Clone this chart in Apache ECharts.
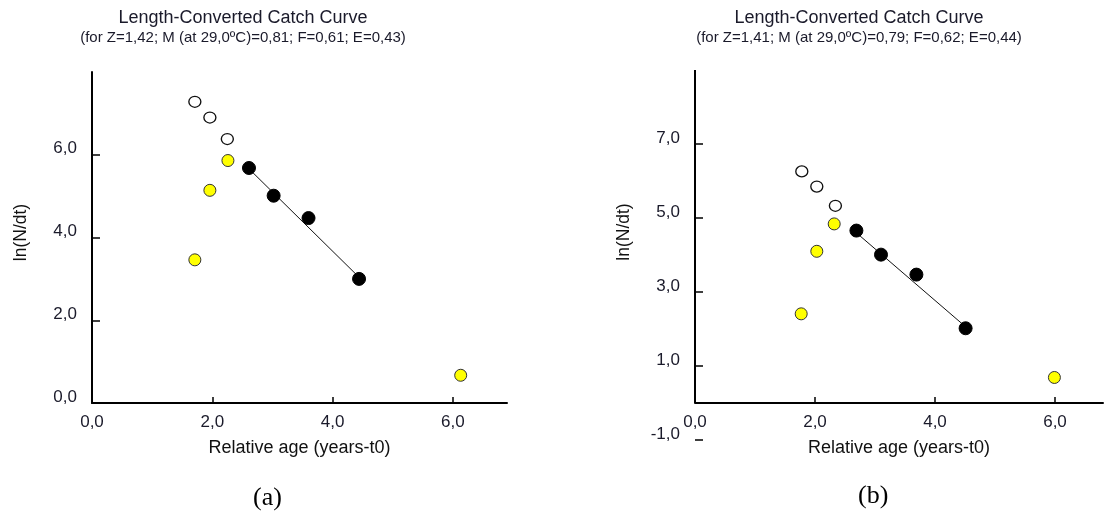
<!DOCTYPE html>
<html>
<head>
<meta charset="utf-8">
<script src="https://cdn.jsdelivr.net/npm/echarts@6/dist/echarts.min.js"></script>
<style>
  html, body { margin: 0; padding: 0; background: #fff; }
  #chart { width: 1104px; height: 513px; }
</style>
</head>
<body>
<div id="chart"></div>
<script>
// (a) values: [relative age, ln(N/dt)]
const openA = [[1.71, 7.28], [1.96, 6.9], [2.25, 6.38]];
const yellowA = [[1.71, 3.46], [1.96, 5.14], [2.26, 5.86], [6.13, 0.67]];
const blackA = [[2.61, 5.68], [3.02, 5.01], [3.6, 4.47], [4.44, 3.0]];
const fitA = [[2.61, 5.66], [4.44, 3.04]];
const xTicksA = [0, 2, 4, 6];
const yTicksA = [0, 2, 4, 6];

// (b)
const openB = [[1.78, 6.26], [2.03, 5.85], [2.34, 5.33]];
const yellowB = [[1.77, 2.41], [2.03, 4.1], [2.32, 4.84], [5.99, 0.69]];
const blackB = [[2.69, 4.66], [3.1, 4.01], [3.69, 3.47], [4.51, 2.02]];
const fitB = [[2.69, 4.6], [4.51, 2.06]];
const xTicksB = [0, 2, 4, 6];
const yTicksB = [-1, 1, 3, 5, 7];
const yAxisLineB = [[0, 0], [0, 9]];

const titleText = "Length-Converted Catch Curve";
const subA = "(for Z=1,42; M (at 29,0ºC)=0,81; F=0,61; E=0,43)";
const subB = "(for Z=1,41; M (at 29,0ºC)=0,79; F=0,62; E=0,44)";

const font = "Liberation Sans";
const fmt = (v) => v.toFixed(1).replace(".", ",");

function xAxisOf(grid, max, ticks, offset) {
  return {
    gridIndex: grid,
    type: "value",
    min: 0,
    max: max,
    interval: 2,
    offset: offset,
    name: "Relative age (years-t0)",
    nameLocation: "middle",
    nameGap: 36,
    nameTextStyle: { fontFamily: font, fontSize: 18, color: "#111" },
    axisLine: { show: true, onZero: false, lineStyle: { color: "#000", width: 2 } },
    axisTick: { show: true, inside: true, length: 6, customValues: ticks, lineStyle: { color: "#000", width: 1.5 } },
    axisLabel: { customValues: ticks, formatter: fmt, margin: 11, fontFamily: font, fontSize: 17, color: "#1a1a2a" },
    splitLine: { show: false },
  };
}

function yAxisOf(grid, min, max, ticks, showLine, namePad) {
  return {
    gridIndex: grid,
    type: "value",
    min: min,
    max: max,
    interval: 2,
    name: "ln(N/dt)",
    nameLocation: "middle",
    nameGap: 62,
    nameTextStyle: { fontFamily: font, fontSize: 17.5, color: "#111", padding: namePad },
    axisLine: { show: showLine, lineStyle: { color: "#000", width: 2 } },
    axisTick: { show: true, inside: true, length: 8, customValues: ticks, lineStyle: { color: "#000", width: 1.5 } },
    axisLabel: {
      customValues: ticks, formatter: fmt, margin: 15,
      fontFamily: font, fontSize: 17, color: "#1a1a2a",
      verticalAlign: "bottom", lineHeight: 12,
    },
    splitLine: { show: false },
  };
}

function pointsOf(name, data, grid, style, size) {
  return {
    name: name,
    type: "scatter",
    xAxisIndex: grid,
    yAxisIndex: grid,
    data: data,
    symbol: "circle",
    symbolSize: size,
    itemStyle: style,
    z: 5,
  };
}

function fitOf(data, grid) {
  return {
    type: "line",
    xAxisIndex: grid,
    yAxisIndex: grid,
    data: data,
    symbol: "none",
    lineStyle: { color: "#111", width: 1 },
    z: 3,
  };
}

const openStyle = { color: "#fff", borderColor: "#111", borderWidth: 1.3, opacity: 1 };
const yellowStyle = { color: "#ffff00", borderColor: "#333", borderWidth: 1, opacity: 1 };
const blackStyle = { color: "#000", borderColor: "#000", borderWidth: 1, opacity: 1 };

const chart = echarts.init(document.getElementById("chart"), null, { renderer: "canvas" });

chart.setOption({
  backgroundColor: "#fff",
  animation: false,
  title: [
    {
      text: titleText, subtext: subA, left: 238, top: 4, textAlign: "center", itemGap: 3,
      textStyle: { fontFamily: font, fontSize: 18, fontWeight: "normal", color: "#1a1a2a" },
      subtextStyle: { fontFamily: font, fontSize: 15, color: "#1a1a2a" },
    },
    {
      text: titleText, subtext: subB, left: 854, top: 4, textAlign: "center", itemGap: 3,
      textStyle: { fontFamily: font, fontSize: 18, fontWeight: "normal", color: "#1a1a2a" },
      subtextStyle: { fontFamily: font, fontSize: 15, color: "#1a1a2a" },
    },
  ],
  grid: [
    { left: 92, top: 72, width: 415, height: 331 },
    { left: 695, top: 70, width: 408, height: 370 },
  ],
  xAxis: [xAxisOf(0, 6.9, xTicksA, 0), xAxisOf(1, 6.8, xTicksB, -37)],
  yAxis: [
    yAxisOf(0, 0, 8, yTicksA, true, [0, 0, 0, 10]),
    yAxisOf(1, -1, 9, yTicksB, false, [0, 0, 0, 46]),
  ],
  graphic: [
    { type: "text", left: 253, top: 485, style: { text: "(a)", font: "26px 'Liberation Serif'", fill: "#000" } },
    { type: "text", left: 858, top: 483, style: { text: "(b)", font: "26px 'Liberation Serif'", fill: "#000" } },
  ],
  series: [
    fitOf(fitA, 0),
    pointsOf("open", openA, 0, openStyle, [12, 11]),
    pointsOf("excluded", yellowA, 0, yellowStyle, 12),
    pointsOf("used", blackA, 0, blackStyle, 13),
    {
      type: "line",
      xAxisIndex: 1,
      yAxisIndex: 1,
      data: yAxisLineB,
      symbol: "none",
      lineStyle: { color: "#000", width: 2 },
      z: 2,
    },
    fitOf(fitB, 1),
    pointsOf("open", openB, 1, openStyle, [12, 11]),
    pointsOf("excluded", yellowB, 1, yellowStyle, 12),
    pointsOf("used", blackB, 1, blackStyle, 13),
  ],
});
</script>
</body>
</html>
